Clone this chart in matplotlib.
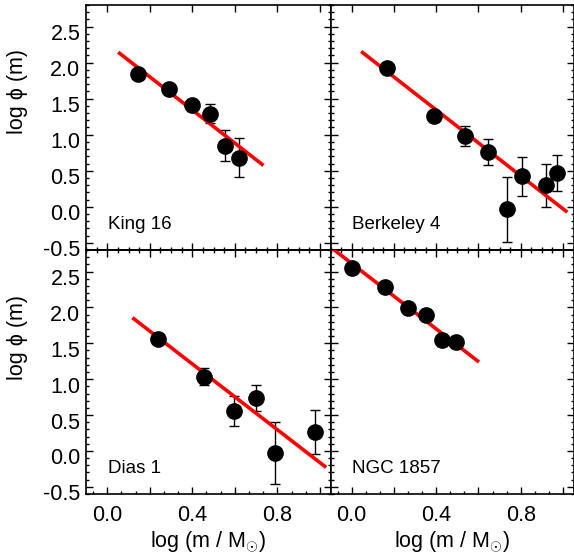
import matplotlib
matplotlib.use("Agg")
import matplotlib.pyplot as plt
import numpy as np
from matplotlib.ticker import MultipleLocator, FuncFormatter, NullFormatter
from matplotlib.transforms import ScaledTranslation

plt.rcParams['font.family'] = ['Liberation Sans', 'DejaVu Sans']
plt.rcParams['mathtext.fontset'] = 'custom'
plt.rcParams['mathtext.rm'] = 'Liberation Sans'
plt.rcParams['mathtext.it'] = 'Liberation Sans:italic'
plt.rcParams['axes.unicode_minus'] = False

# ---------------- data ----------------
king_x = [0.145, 0.289, 0.398, 0.484, 0.555, 0.620]
king_y = [1.84, 1.635, 1.41, 1.29, 0.85, 0.68]
king_err = [0.04, 0.05, 0.08, 0.13, 0.22, 0.27]
king_fit = [2.263, -2.30]          # intercept, slope
king_fit_x = [0.058, 0.728]

berk_x = [0.166, 0.389, 0.536, 0.646, 0.735, 0.806, 0.922, 0.970]
berk_y = [1.92, 1.26, 0.986, 0.764, -0.036, 0.426, 0.30, 0.463]
berk_err = [0.04, 0.05, 0.14, 0.18, 0.45, 0.27, 0.30, 0.25]
berk_fit = [2.259, -2.287]
berk_fit_x = [0.052, 1.014]

dias_x = [0.240, 0.453, 0.594, 0.701, 0.789, 0.977]
dias_y = [1.564, 1.036, 0.56, 0.736, -0.033, 0.264]
dias_err = [0.05, 0.12, 0.21, 0.18, 0.43, 0.30]
dias_fit = [2.128, -2.29]
dias_fit_x = [0.125, 1.023]

ngc_x = [0.003, 0.157, 0.267, 0.353, 0.430, 0.492]
ngc_y = [2.546, 2.29, 1.995, 1.90, 1.546, 1.514]
ngc_err = [0.03, 0.03, 0.04, 0.05, 0.08, 0.08]
ngc_fit = [2.613, -2.28]
ngc_fit_x = [-0.1, 0.596]

names = ["King 16", "Berkeley 4", "Dias 1", "NGC 1857"]
xticks_labeled = [0.0, 0.4, 0.8]
yticks = [-0.5, 0.0, 0.5, 1.0, 1.5, 2.0, 2.5]

# ---------------- layout ----------------
W, H = 574, 560
fig = plt.figure(figsize=(W / 100, H / 100), dpi=100)
L, M, R = 86 / W, 330.5 / W, 573.5 / W
T, C, B = 1 - 5 / H, 1 - 250 / H, 1 - 494 / H

ax_tl = fig.add_axes([L, C, M - L, T - C])
ax_tr = fig.add_axes([M, C, R - M, T - C])
ax_bl = fig.add_axes([L, B, M - L, C - B])
ax_br = fig.add_axes([M, B, R - M, C - B])

panels = [
    (ax_tl, king_x, king_y, king_err, king_fit, king_fit_x, names[0], False, True),
    (ax_tr, berk_x, berk_y, berk_err, berk_fit, berk_fit_x, names[1], False, False),
    (ax_bl, dias_x, dias_y, dias_err, dias_fit, dias_fit_x, names[2], True, True),
    (ax_br, ngc_x, ngc_y, ngc_err, ngc_fit, ngc_fit_x, names[3], True, False),
]

def xfmt(v, pos):
    for t in xticks_labeled:
        if abs(v - t) < 1e-6:
            return f"{t:.1f}"
    return ""

for ax, x, y, e, fit, fx, name, bottom, left in panels:
    ax.set_xlim(-0.1, 1.05)
    ax.set_ylim(-0.6, 2.8)
    fxa = np.array(fx)
    ax.plot(fxa, fit[0] + fit[1] * fxa, color='#ff0000', lw=2.6, zorder=3)
    ax.errorbar(x, y, yerr=e, fmt='none', ecolor='black', elinewidth=1.0,
                capsize=3.5, capthick=1.0, zorder=2)
    ax.plot(x, y, 'o', color='black', ms=11, zorder=4)
    ax.text(0.09, 0.087, name, transform=ax.transAxes, fontsize=13.5,
            ha='left', va='baseline')

    for sp in ax.spines.values():
        sp.set_linewidth(1.2)
    ax.xaxis.set_major_locator(MultipleLocator(0.2))
    ax.yaxis.set_major_locator(MultipleLocator(0.5))
    ax.yaxis.set_minor_locator(MultipleLocator(0.1))
    ax.tick_params(which='both', direction='in', right=True, width=1.0)
    ax.tick_params(which='major', length=5)
    ax.tick_params(which='minor', length=2.5)

    if bottom:
        ax.xaxis.set_minor_locator(MultipleLocator(1 / 15))
        ax.tick_params(top=False)
        sec = ax.secondary_xaxis('top')
        sec.xaxis.set_major_locator(MultipleLocator(0.2))
        sec.xaxis.set_minor_locator(MultipleLocator(0.05))
        sec.xaxis.set_major_formatter(NullFormatter())
        sec.tick_params(which='both', direction='in', width=1.0)
        sec.tick_params(which='major', length=5)
        sec.tick_params(which='minor', length=2.5)
        sec.spines['top'].set_linewidth(1.2)
        ax.xaxis.set_major_formatter(FuncFormatter(xfmt))
        ax.tick_params(axis='x', labelsize=15.5, pad=8)
        ax.set_xlabel(r'log (m / M$_{\odot}$)', fontsize=15.5, labelpad=2)
    else:
        ax.xaxis.set_minor_locator(MultipleLocator(0.05))
        ax.tick_params(top=True, labelbottom=False)

    if left:
        ax.set_yticks(yticks)
        ax.yaxis.set_minor_locator(MultipleLocator(0.1))
        ax.tick_params(axis='y', labelsize=15.5, pad=4)
        for lab in ax.get_yticklabels():
            lab.set_transform(lab.get_transform() +
                              ScaledTranslation(0, -4 / 72, fig.dpi_scale_trans))
    else:
        ax.tick_params(labelleft=False)

# y labels
fig.text(17 / W, 1 - 92 / H, 'log ϕ (m)', rotation=90, fontsize=15.5,
         ha='center', va='center')
fig.text(17 / W, 1 - 337 / H, 'log ϕ (m)', rotation=90, fontsize=15.5,
         ha='center', va='center')

fig.savefig('out.png', dpi=100)
